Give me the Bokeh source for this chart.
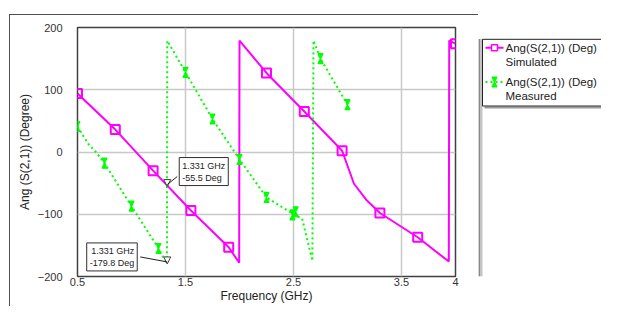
from bokeh.plotting import figure
from bokeh.layouts import row
from bokeh.models import (FixedTicker, Range1d, Label, Arrow, NormalHead, ColumnDataSource)
from bokeh.core.properties import value
from bokeh.embed import file_html
from bokeh.resources import INLINE

# ---------------- data ----------------
sim_freq = [0.5, 0.85, 1.2, 1.55, 1.9, 1.997, 2.0, 2.25, 2.6, 2.95, 3.06, 3.18, 3.3, 3.65, 3.938, 3.942, 4.0]
sim_ang = [94, 36, -30, -94, -153, -178, 179, 127, 65, 2, -51, -78, -98, -137, -176, 179, 174]

sim_mark_freq = [0.5, 0.85, 1.2, 1.55, 1.9, 2.25, 2.6, 2.95, 3.3, 3.65, 4.0]
sim_mark_ang = [94, 36, -30, -94, -153, 127, 65, 2, -98, -137, 174]

meas_freq = [0.5, 0.55, 0.6, 0.67, 0.75, 1.0, 1.25, 1.328, 1.331, 1.5, 1.75, 2.0, 2.25, 2.5, 2.58, 2.675, 2.685, 2.75, 3.0]
meas_ang = [41, 27, 13, 0, -18, -87, -155, -179.8, 179, 128, 53, -12, -73, -100, -107, -175, 179, 150, 76]

meas_mark_freq = [0.5, 0.75, 1.0, 1.25, 1.5, 1.75, 2.0, 2.25, 2.49, 2.52, 2.75, 3.0]
meas_mark_ang = [41, -18, -87, -155, 128, 53, -12, -73, -101, -96, 150, 76]

mk_freq = [1.331, 1.331]
mk_ang = [-55.5, -179.8]

x_ticks = [0.5, 1.5, 2.5, 3.5, 4]
x_tick_labels = ["0.5", "1.5", "2.5", "3.5", "4"]
y_ticks = [-200, -100, 0, 100, 200]

legend_series = ["Ang(S(2,1)) (Deg)", "Ang(S(2,1)) (Deg)"]
legend_names = ["Simulated", "Measured"]

MAGENTA = "#ff00ff"
GREEN = "#00ff00"
FONT = "Liberation Sans"
FRAME_COL = "#505050"

# ---------------- main chart ----------------
p = figure(width=478, height=306, x_range=Range1d(0.5, 4), y_range=Range1d(-200, 200),
           output_backend="svg", toolbar_location=None,
           min_border_left=77, min_border_right=23, min_border_top=27, min_border_bottom=30)
p.background_fill_color = "white"
p.border_fill_alpha = 0
p.styles = {
    "background-color": "white",
    "background-image": f"linear-gradient({FRAME_COL},{FRAME_COL}), linear-gradient({FRAME_COL},{FRAME_COL})",
    "background-size": "1px 400px, 470px 1px",
    "background-position": "9px 14px, 9px 14px",
    "background-repeat": "no-repeat",
}
p.outline_line_color = "#404040"
p.outline_line_width = 1.5

p.xaxis.ticker = FixedTicker(ticks=x_ticks)
p.xaxis.major_label_overrides = {t: l for t, l in zip(x_ticks, x_tick_labels)}
p.yaxis.ticker = FixedTicker(ticks=y_ticks)
for ax in (p.xaxis[0], p.yaxis[0]):
    ax.axis_line_color = None
    ax.major_tick_line_color = None
    ax.minor_tick_line_color = None
    ax.major_tick_out = 0
    ax.major_tick_in = 0
    ax.minor_tick_out = 0
    ax.major_label_text_font = FONT
    ax.major_label_text_font_size = "11px"
    ax.major_label_text_color = "#333333"
    ax.axis_label_text_font = FONT
    ax.axis_label_text_font_size = "12px"
    ax.axis_label_text_font_style = "normal"
    ax.axis_label_text_color = "#222222"
p.xaxis.axis_label = "Frequency (GHz)"
p.yaxis.axis_label = "Ang (S(2,1)) (Degree)"
p.xaxis.major_label_standoff = 1
p.xaxis.axis_label_standoff = 0
p.yaxis.major_label_standoff = 15
p.yaxis.axis_label_standoff = 3
p.grid.grid_line_color = "#c8c8c8"
p.grid.grid_line_width = 1.5

# simulated
p.line(sim_freq, sim_ang, line_color=MAGENTA, line_width=2)
p.scatter(sim_mark_freq, sim_mark_ang, marker="square", size=9, fill_color=None,
          line_color=MAGENTA, line_width=2)

# measured
p.line(meas_freq, meas_ang, line_color=GREEN, line_width=2, line_dash="2 3")
EPS = 0.01


def hourglass_head():
    return NormalHead(size=5, fill_color=GREEN, line_color=GREEN, line_width=1.2)


hg_src = ColumnDataSource(dict(x=meas_mark_freq,
                               y0=[a - EPS for a in meas_mark_ang],
                               y1=[a + EPS for a in meas_mark_ang]))
p.add_layout(Arrow(start=hourglass_head(), end=hourglass_head(), x_start="x", y_start="y0",
                   x_end="x", y_end="y1", source=hg_src, line_alpha=0))

# marker callouts
FRAME_W, FRAME_H = 378, 249
xpp = (4 - 0.5) / FRAME_W      # GHz per pixel
ypp = 400 / FRAME_H            # deg per pixel
mk_src = ColumnDataSource(dict(x=mk_freq, y0=[a + EPS for a in mk_ang], y1=mk_ang))
p.add_layout(Arrow(end=NormalHead(size=7, fill_color="white", line_color="#404040", line_width=1),
                   start=None, x_start="x", y_start="y0", x_end="x", y_end="y1",
                   source=mk_src, line_alpha=0))

callout_cfg = [dict(dx=12, dy=1, align="left", base="bottom", lx=10, ly=10),
               dict(dx=-30, dy=21, align="right", base="top", lx=-27, ly=7)]
for f, a, c in zip(mk_freq, mk_ang, callout_cfg):
    p.add_layout(Arrow(x_start=f, y_start=a + 2 * ypp, x_end=f + c["lx"] * xpp,
                       y_end=a + c["ly"] * ypp, end=None, line_color="#202020", line_width=1))
    p.add_layout(Label(x=f, y=a, x_offset=c["dx"], y_offset=c["dy"],
                       text=f"{f:.3f} GHz\n{a:.1f} Deg", text_align=c["align"],
                       text_baseline=c["base"], text_font=FONT, text_font_size="9px",
                       text_color="#222222", background_fill_color="white",
                       border_line_color="#303030", border_line_width=1, padding=3))

# ---------------- legend panel (pixel coordinates) ----------------
q = figure(width=123, height=306, x_range=Range1d(478, 601), y_range=Range1d(306, 0),
           output_backend="svg", toolbar_location=None, x_axis_type=None, y_axis_type=None,
           min_border=0)
q.grid.visible = False
q.outline_line_color = None
q.background_fill_color = "white"
q.border_fill_color = "white"

# splitter bar
q.quad(left=[478.5], right=[482], top=[14], bottom=[306], fill_color="#c4c4c4", line_color=None)
q.segment(x0=[478.5], y0=[14], x1=[478.5], y1=[306], line_color=FRAME_COL, line_width=1)
# legend box with shadow
q.quad(left=[484], right=[640], top=[97], bottom=[99.5], fill_color="#9a9a9a", line_color=None)
q.quad(left=[482], right=[640], top=[14.5], bottom=[96.5], fill_color="white",
       line_color="#202020", line_width=1)

leg_y = [25, 67]
cols = [MAGENTA, GREEN]
dashes = ["solid", "2 3"]
for yy, col, dash in zip(leg_y, cols, dashes):
    q.line([485, 503], [yy, yy], line_color=col, line_width=2, line_dash=dash)
q.text(x=[505, 505, 505, 505], y=[leg_y[0], leg_y[0] + 17, leg_y[1], leg_y[1] + 17],
       text=[legend_series[0], legend_names[0], legend_series[1], legend_names[1]],
       text_baseline="middle", text_font=value(FONT), text_font_size="11.5px",
       text_color="#222222")
q.scatter([494], [leg_y[0]], marker="square", size=6, fill_color="white",
          line_color=MAGENTA, line_width=1.5)
q.add_layout(Arrow(x_start=494, y_start=leg_y[1] + EPS, x_end=494, y_end=leg_y[1] - EPS,
                   start=hourglass_head(), end=hourglass_head(), line_alpha=0))

layout = row(p, q, spacing=0)
open("out.html", "w").write(file_html(layout, INLINE))
